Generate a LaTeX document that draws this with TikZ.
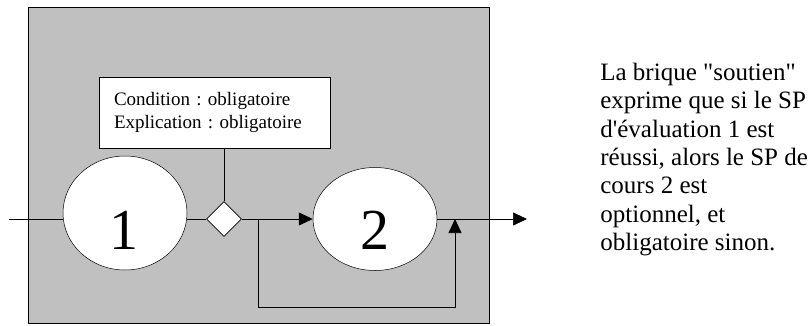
\documentclass[tikz,border=0pt]{standalone}
\usepackage{fontspec}
\setmainfont{Liberation Serif}
\usetikzlibrary{arrows.meta,shapes.geometric}
\definecolor{brickgray}{RGB}{192,192,192}
\frenchspacing

\begin{document}
\begin{tikzpicture}[x=1pt,y=1pt,>={Triangle[length=14pt,width=13pt]},line width=0.7pt,
    brick/.style={draw,fill=brickgray},
    sp/.style={ellipse,draw,fill=white,inner sep=0pt,line width=0.5pt},
    digit/.style={font=\fontsize{58}{58}\selectfont,inner sep=0pt,anchor=base},
    junction/.style={diamond,draw,fill=white,aspect=1,minimum size=35pt,inner sep=0pt},
    attrbox/.style={draw,fill=white,align=left,text width=201pt,inner xsep=15pt,
        minimum height=71pt,font=\fontsize{19}{23}\selectfont},
    note/.style={align=left,anchor=north west,inner sep=0pt,font=\fontsize{25}{28.3}\selectfont}]

    \useasboundingbox (0,0) rectangle (812,325);

    % the brick
    \node[brick,minimum width=461pt,minimum height=316pt] (brique) at (258.5,160) {};

    \node[sp,minimum width=124pt,minimum height=114pt] (e1) at (125,112) {};
    \node[sp,minimum width=124pt,minimum height=103pt] (e2) at (375,106) {};
    \node[digit] (n1) at (124,76) {1};
    \node[digit] (n2) at (375,76) {2};
    \node[junction] (dia) at (224,106) {};
    \node[attrbox] (attr) at (214.5,212.5) {Condition : obligatoire\\Explication : obligatoire};

    \coordinate (in) at (9,106);
    \coordinate (split) at (258,106);
    \coordinate (loop) at (258,18);
    \coordinate (join) at (455,106);
    \coordinate (out) at (527,106);

    \draw (in) -- (in -| e1.west);
    \draw (e1.east |- dia.west) -- (dia.west);
    \draw (dia.north) -- (dia.north |- attr.south);
    \draw[->] (dia.east) -- (e2.west);
    \draw[->] (split) -- (loop) -| (join);
    \draw[->] (e2.east) -- (out);

    % comment
    \node[note] (txt) at (600,262) {La brique \textquotedbl soutien\textquotedbl\\exprime que si le SP\\d\textquotesingle évaluation 1 est\\réussi, alors le SP de\\cours 2 est\\optionnel, et\\obligatoire sinon.};

\end{tikzpicture}
\end{document}
